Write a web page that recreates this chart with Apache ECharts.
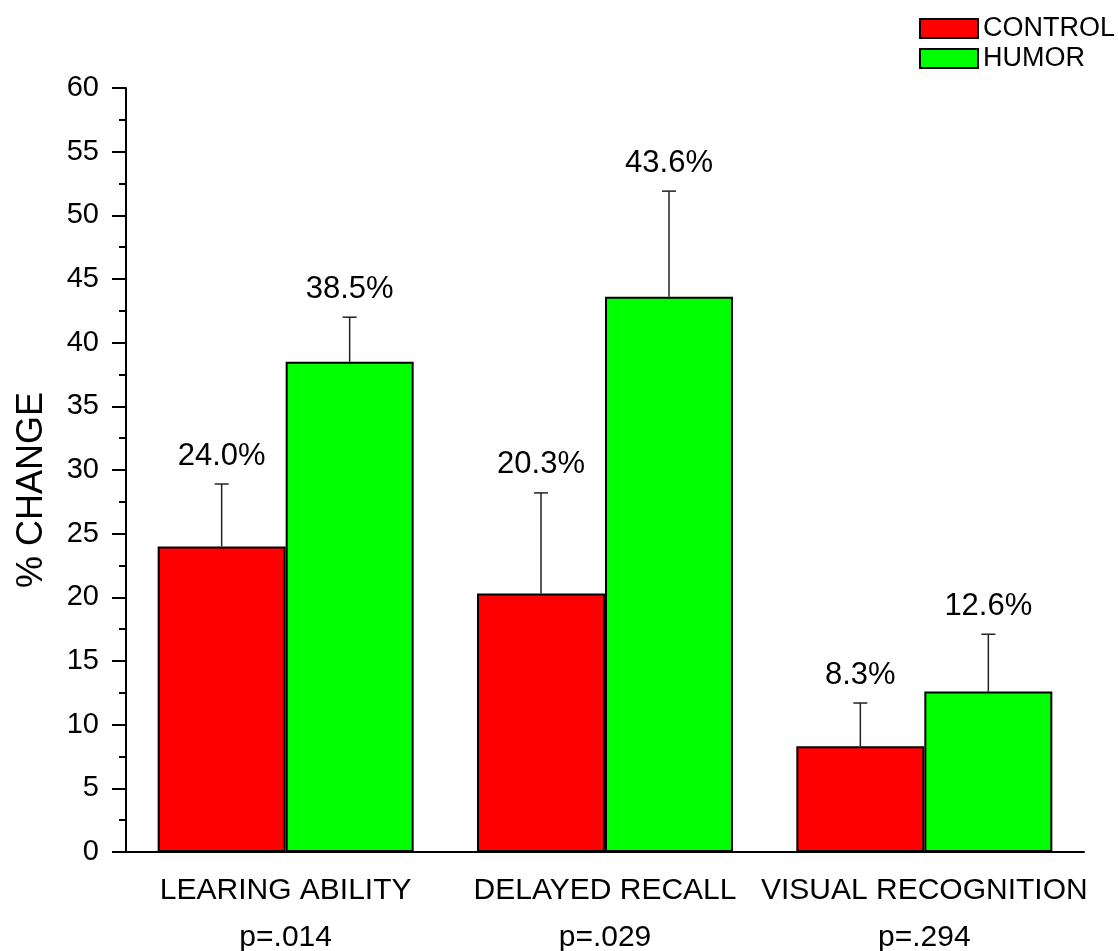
<!DOCTYPE html>
<html>
<head>
<meta charset="utf-8">
<script src="https://cdn.jsdelivr.net/npm/echarts@6/dist/echarts.min.js"></script>
<style>
  html, body { margin: 0; padding: 0; background: #fff; }
  #chart { width: 1118px; height: 951px; }
</style>
</head>
<body>
<div id="chart"></div>
<script>
// data
const categories = ["LEARING ABILITY", "DELAYED RECALL", "VISUAL RECOGNITION"];
const pValues = ["p=.014", "p=.029", "p=.294"];
const control = [24.0, 20.3, 8.3];
const humor = [38.5, 43.6, 12.6];
const controlErr = [4.9, 7.9, 3.4];
const humorErr = [3.5, 8.3, 4.5];
const yTicks = { min: 0, max: 60, interval: 5 };

const FONT = "'Liberation Sans', Arial, sans-serif";
const BAR_W = 128;

const myChart = echarts.init(document.getElementById("chart"));

// error bar + value label, side = -1 (left bar) or 1 (right bar)
function errRender(side) {
  return function (params, api) {
    const i = api.value(0);
    const v = api.value(1);
    const e = api.value(2);
    const base = api.coord([i, v]);
    const top = api.coord([i, v + e]);
    const x = base[0] + side * BAR_W / 2;
    return {
      type: "group",
      children: [
        { type: "line", shape: { x1: x, y1: base[1], x2: x, y2: top[1] },
          style: { stroke: "#222", lineWidth: 1.5 } },
        { type: "line", shape: { x1: x - 7, y1: top[1], x2: x + 7, y2: top[1] },
          style: { stroke: "#222", lineWidth: 1.5 } },
        { type: "text",
          style: { text: v.toFixed(1) + "%", x: x, y: top[1] - 28,
                   fill: "#000", fontSize: 31, fontFamily: FONT,
                   align: "center", verticalAlign: "middle" } }
      ]
    };
  };
}

let option = {
  backgroundColor: "#fff",
  animation: false,
  grid: { left: 126, right: 34, top: 88, bottom: 99, containLabel: false, outerBoundsMode: "none" },
  legend: {
    data: ["CONTROL", "HUMOR"],
    orient: "vertical",
    left: 914,
    top: 10,
    icon: "rect",
    itemWidth: 58,
    itemHeight: 19,
    itemGap: 3,
    textStyle: { fontSize: 27, fontFamily: FONT, color: "#000" },
  },
  xAxis: {
    type: "category",
    data: categories,
    axisLine: { lineStyle: { color: "#000", width: 2 } },
    axisTick: { alignWithLabel: true, length: 14, lineStyle: { color: "#000", width: 2 } },
    axisLabel: {
      margin: 15,
      color: "#000",
      fontSize: 30,
      fontFamily: FONT,
      lineHeight: 47,
      interval: 0,
      formatter: (val, idx) => val + "\n" + pValues[idx],
    },
  },
  yAxis: {
    type: "value",
    min: yTicks.min,
    max: yTicks.max,
    interval: yTicks.interval,
    name: "% CHANGE",
    nameLocation: "middle",
    nameRotate: 90,
    nameGap: 76,
    nameTextStyle: { fontSize: 36, fontFamily: FONT, color: "#000", padding: [0, 40, 0, 0] },
    splitLine: { show: false },
    axisLine: { show: true, lineStyle: { color: "#000", width: 2 } },
    axisTick: { show: true, length: 14, lineStyle: { color: "#000", width: 2 } },
    minorTick: { show: true, splitNumber: 2, length: 7, lineStyle: { color: "#000", width: 2 } },
    axisLabel: { margin: 27, color: "#000", fontSize: 29, fontFamily: FONT },
  },
  series: [
    {
      name: "CONTROL",
      type: "bar",
      data: control,
      barWidth: BAR_W,
      barGap: "0%",
      itemStyle: { color: "#ff0000", borderColor: "#000", borderWidth: 2 },
    },
    {
      name: "HUMOR",
      type: "bar",
      data: humor,
      barWidth: BAR_W,
      barGap: "0%",
      itemStyle: { color: "#00ff00", borderColor: "#000", borderWidth: 2 },
    },
    {
      name: "errControl",
      type: "custom",
      z: 5,
      renderItem: errRender(-1),
      data: control.map((v, i) => [i, v, controlErr[i]]),
    },
    {
      name: "errHumor",
      type: "custom",
      z: 5,
      renderItem: errRender(1),
      data: humor.map((v, i) => [i, v, humorErr[i]]),
    },
  ],
};
myChart.setOption(option);
</script>
</body>
</html>
